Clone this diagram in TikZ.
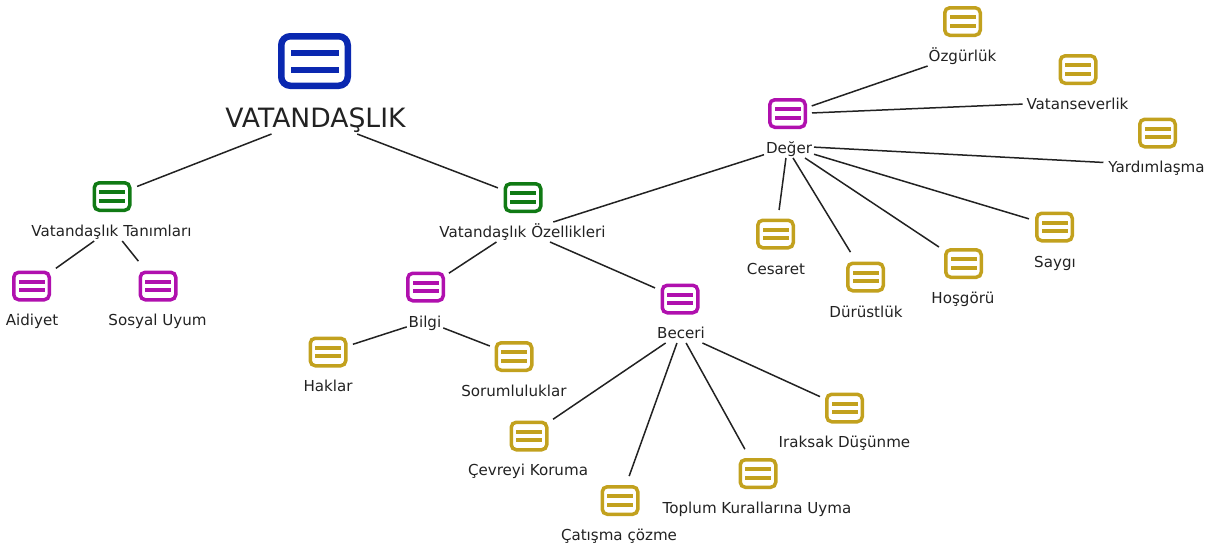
\documentclass[tikz,border=0pt]{standalone}
\usepackage{fontspec}
\setmainfont{DejaVu Sans}
\definecolor{cblue}{HTML}{0A28B0}
\definecolor{cgreen}{HTML}{107A14}
\definecolor{cpurple}{HTML}{B010AE}
\definecolor{cgold}{HTML}{C2A11E}
\definecolor{ctext}{HTML}{222222}
\tikzset{
  smallicon/.style={draw=#1,line width=3.5pt,rounded corners=5pt,fill=white,minimum width=35.5pt,minimum height=27.5pt,inner sep=0pt,outer sep=1.75pt,
    path picture={
      \fill[#1,draw=none,sharp corners] ([shift={(-13pt,2.4pt)}]path picture bounding box.center) rectangle +(26pt,3.9pt);
      \fill[#1,draw=none,sharp corners] ([shift={(-13pt,-6.3pt)}]path picture bounding box.center) rectangle +(26pt,3.9pt);
    }},
  bigicon/.style={draw=#1,line width=6.5pt,rounded corners=9pt,fill=white,minimum width=66.5pt,minimum height=49.5pt,inner sep=0pt,outer sep=3.25pt,
    path picture={
      \fill[#1,draw=none,sharp corners] ([shift={(-24pt,5pt)}]path picture bounding box.center) rectangle +(48pt,6pt);
      \fill[#1,draw=none,sharp corners] ([shift={(-24pt,-12pt)}]path picture bounding box.center) rectangle +(48pt,6.5pt);
    }},
  lbl/.style={text=ctext,font=\fontsize{15.1}{17}\selectfont,inner sep=2pt,outer sep=0pt,text height=11.5pt,text depth=1.5pt,minimum height=20pt},
  rootlbl/.style={text=ctext,font=\fontsize{26.6}{30}\selectfont,inner sep=1pt,outer sep=0pt,text height=21pt,text depth=2pt,minimum height=32pt},
  conn/.style={draw=ctext,line width=1.5pt}
}
\begin{document}
\begin{tikzpicture}[x=1pt,y=-1pt]
\useasboundingbox (0,0) rectangle (1215,550);
% root
\node[bigicon=cblue] (rooti) at (314.5,61) {};
\node[rootlbl] (rootl) at (315.5,118) {VATANDAŞLIK};
% green
\node[smallicon=cgreen] (tanimi) at (112,196.5) {};
\node[lbl] (taniml) at (111.5,231) {Vatandaşlık Tanımları};
\node[smallicon=cgreen] (ozeli) at (523,197.5) {};
\node[lbl] (ozell) at (522.5,232) {Vatandaşlık Özellikleri};
% purple
\node[smallicon=cpurple] (aidi) at (31.5,286) {};
\node[lbl] (aidl) at (32,320) {Aidiyet};
\node[smallicon=cpurple] (sosi) at (158,286) {};
\node[lbl] (sosl) at (157.5,320) {Sosyal Uyum};
\node[smallicon=cpurple] (bilgii) at (425.5,287) {};
\node[lbl] (bilgil) at (425,322) {Bilgi};
\node[smallicon=cpurple] (beceri) at (680,299) {};
\node[lbl] (becerl) at (681,333) {Beceri};
\node[smallicon=cpurple] (degi) at (787.5,113.5) {};
\node[lbl] (degl) at (789,148) {Değer};
% gold
\node[smallicon=cgold] (hakli) at (328,352) {};
\node[lbl] (hakll) at (328,386) {Haklar};
\node[smallicon=cgold] (sori) at (514,356.5) {};
\node[lbl] (sorl) at (514,391) {Sorumluluklar};
\node[smallicon=cgold] (cevi) at (529,436) {};
\node[lbl] (cevl) at (528,470) {Çevreyi Koruma};
\node[smallicon=cgold] (cati) at (620,500.5) {};
\node[lbl] (catl) at (619,535) {Çatışma çözme};
\node[smallicon=cgold] (topi) at (758,473.5) {};
\node[lbl] (topl) at (757,508) {Toplum Kurallarına Uyma};
\node[smallicon=cgold] (irai) at (844.5,408) {};
\node[lbl] (iral) at (844.5,442) {Iraksak Düşünme};
\node[smallicon=cgold] (cesi) at (775.5,234) {};
\node[lbl] (cesl) at (776,269) {Cesaret};
\node[smallicon=cgold] (duri) at (865.5,277) {};
\node[lbl] (durl) at (866,312) {Dürüstlük};
\node[smallicon=cgold] (hosi) at (963.5,263.5) {};
\node[lbl] (hosl) at (963,298) {Hoşgörü};
\node[smallicon=cgold] (sayi) at (1054.5,227) {};
\node[lbl] (sayl) at (1055,262) {Saygı};
\node[smallicon=cgold] (yari) at (1157.5,133) {};
\node[lbl] (yarl) at (1156.5,167) {Yardımlaşma};
\node[smallicon=cgold] (vati) at (1078,69.5) {};
\node[lbl] (vatl) at (1077.5,104) {Vatanseverlik};
\node[smallicon=cgold] (ozgi) at (962.5,21.5) {};
\node[lbl] (ozgl) at (962.5,56) {Özgürlük};
% connectors
\draw[conn,shorten >=6pt] (rootl.200.2) -- (tanimi.22.8);
\draw[conn,shorten >=6pt] (rootl.-21) -- (ozeli.159.2);
\draw[conn,shorten >=6pt] (taniml.210.6) -- (aidi.36.3);
\draw[conn,shorten >=12pt] (taniml.-43) -- (sosi.128.7);
\draw[conn,shorten >=4.7pt] (ozell.201) -- (bilgii.30.8);
\draw[conn,shorten >=6pt] (ozell.-20) -- (beceri.156);
\draw[conn] (ozell.18.7) -- (degl.195);
\draw[conn,shorten >=5.7pt] (bilgil.195.5) -- (hakli.17.7);
\draw[conn,shorten >=5pt] (bilgil.-18) -- (sori.156.4);
\draw[conn,shorten >=5.5pt] (becerl.213.7) -- (cevi.35.3);
\draw[conn,shorten >=9.5pt] (becerl.248) -- (cati.69.8);
\draw[conn,shorten >=10pt] (becerl.-63.4) -- (topi.118);
\draw[conn,shorten >=5.5pt] (becerl.-25.5) -- (irai.155.8);
\draw[conn,shorten >=8.6pt] (degl.253) -- (cesi.81.7);
\draw[conn,shorten >=11pt] (degl.-68) -- (duri.121.8);
\draw[conn,shorten >=6pt] (degl.-32.7) -- (hosi.146);
\draw[conn,shorten >=6.3pt] (degl.-14) -- (sayi.162.6);
\draw[conn,shorten >=3pt] (degl.2.4) -- (yarl.175.6);
\draw[conn,shorten <=5pt,shorten >=2pt] (degi.1.2) -- (vatl.180);
\draw[conn,shorten <=5pt] (degi.17) -- (ozgl.196.4);
\end{tikzpicture}
\end{document}
